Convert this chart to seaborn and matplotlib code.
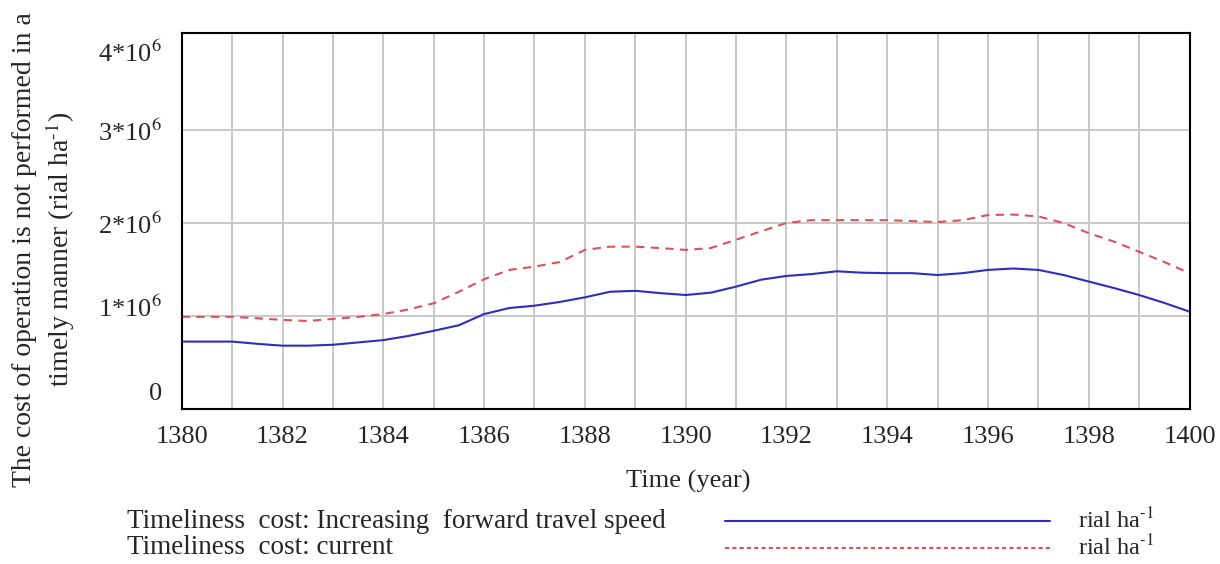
import numpy as np
import pandas as pd
import seaborn as sns
import matplotlib.pyplot as plt
import matplotlib.transforms as mtransforms
from matplotlib.lines import Line2D

# values (millions of rial per ha)
years = [1380 + 0.5 * i for i in range(41)]
speed = [0.724, 0.724, 0.724, 0.70, 0.68, 0.68, 0.69, 0.715, 0.74, 0.785,
         0.84, 0.90, 1.02, 1.085, 1.11, 1.15, 1.20, 1.26, 1.27, 1.245,
         1.225, 1.25, 1.315, 1.39, 1.43, 1.45, 1.48, 1.465, 1.46, 1.46,
         1.44, 1.46, 1.495, 1.51, 1.495, 1.44, 1.37, 1.30, 1.225, 1.14, 1.046]
current = [0.99, 0.99, 0.99, 0.975, 0.957, 0.946, 0.968, 0.99, 1.02, 1.07,
           1.136, 1.26, 1.395, 1.495, 1.53, 1.58, 1.71, 1.745, 1.745, 1.73,
           1.71, 1.73, 1.82, 1.91, 2.0, 2.03, 2.03, 2.03, 2.03, 2.02,
           2.01, 2.03, 2.085, 2.09, 2.07, 2.0, 1.89, 1.80, 1.69, 1.58, 1.46]
series_names = ["Timeliness cost: Increasing forward travel speed",
                "Timeliness cost: current"]
legend_texts = ["Timeliness  cost: Increasing  forward travel speed",
                "Timeliness  cost: current"]
unit_label = r"rial ha$^{\text{-}1}$"
ytick_vals = [0, 1e6, 2e6, 3e6, 4e6]
ytick_labels = ["0", "1*10$^6$", "2*10$^6$", "3*10$^6$", "4*10$^6$"]
xtick_vals = list(range(1380, 1401, 2))

df = pd.DataFrame({
    "year": years * 2,
    "cost": [v * 1e6 for v in speed] + [v * 1e6 for v in current],
    "series": [series_names[0]] * len(years) + [series_names[1]] * len(years),
})

sns.set_style("white")
plt.rcParams["font.family"] = ["Liberation Serif", "DejaVu Serif"]
plt.rcParams["mathtext.fontset"] = "stix"

blue = "#2d2dc0"
red = "#e0505c"

fig = plt.figure(figsize=(12.2, 5.64), dpi=100)
ax = fig.add_axes([0.149, 0.275, 0.826, 0.666])

sns.lineplot(data=df, x="year", y="cost", hue="series", style="series",
             palette=[blue, red], dashes=[(1, 0), (4, 3)], linewidth=1.5,
             legend=False, ax=ax)

ax.set_xlim(1380, 1400)
ax.set_ylim(0, 4.04e6)
ax.set_xticks(xtick_vals)
ax.set_xticks(range(1380, 1401), minor=True)
ax.set_yticks(ytick_vals)
ax.set_yticklabels(ytick_labels)
ax.grid(True, which="both", axis="x", color="#c8c8c8", linewidth=1.4)
ax.grid(True, which="major", axis="y", color="#c8c8c8", linewidth=1.4)
ax.yaxis.get_gridlines()[-1].set_visible(False)
ax.tick_params(which="both", length=0, labelsize=19)
ax.tick_params(axis="x", pad=12)
ax.tick_params(axis="y", pad=14)
for s in ax.spines.values():
    s.set_color("black")
    s.set_linewidth(1.5)
ax.set_xlabel("")
ax.set_ylabel("")

# vensim places the y labels a bit off the grid lines
shifts = [17, 10, 0, 0, -14]
for lab, dy in zip(ax.get_yticklabels(), shifts):
    off = mtransforms.ScaledTranslation(0, dy / 100, fig.dpi_scale_trans)
    lab.set_transform(lab.get_transform() + off)

fig.text(0.564, 1 - 481 / 564, "Time (year)", ha="center", va="center", fontsize=19)
fig.text(25 / 1220, 1 - 250 / 564, "The cost of operation is not performed in a",
         rotation=90, ha="center", va="center", fontsize=20)
fig.text(60 / 1220, 1 - 249 / 564, r"timely manner (rial ha$^{\text{-}1}$)",
         rotation=90, ha="center", va="center", fontsize=20)

# legend rows under the plot
rows_y = [1 - 521 / 564, 1 - 548 / 564]
for name, col, ls, yy in zip(legend_texts, [blue, red], ["-", (0, (2, 1.5))], rows_y):
    fig.text(127 / 1220, yy, name, ha="left", va="center", fontsize=19.5)
    fig.add_artist(Line2D([725 / 1220, 1050 / 1220], [yy, yy], color=col,
                          linestyle=ls, linewidth=1.5))
    fig.text(1078 / 1220, yy, unit_label, ha="left", va="center", fontsize=17.5)

fig.savefig("out.png", dpi=100)
